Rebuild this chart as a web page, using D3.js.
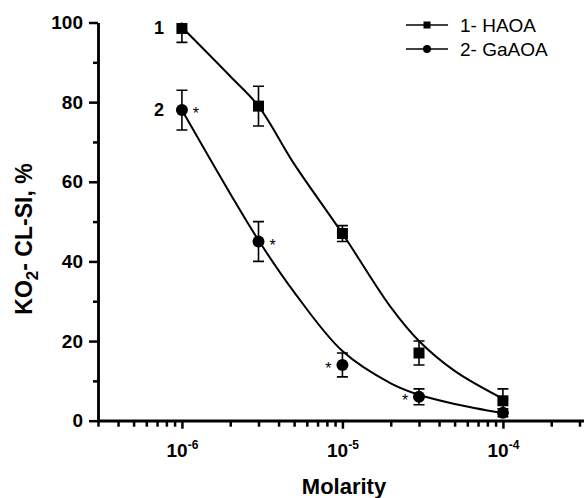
<!DOCTYPE html>
<html>
<head>
<meta charset="utf-8">
<style>
body { margin: 0; background: #fff; }
svg { display: block; font-family: "Liberation Sans", Arial, sans-serif; }
.axis path, .axis line { stroke: #000; stroke-width: 2.5; }
.axis text { font-size: 19px; font-weight: bold; fill: #000; }
.fit { fill: none; stroke: #000; stroke-width: 2; }
.err { stroke: #000; stroke-width: 1.6; }
</style>
</head>
<body>
<svg id="chart" width="584" height="498"></svg>
<script src="https://d3js.org/d3.v7.min.js"></script>
<script>
// measured points (molarity, % with error)
let molarity = [1e-6, 3e-6, 1e-5, 3e-5, 1e-4];
let haoa = [98.5, 79, 47, 17, 5];
let haoaErr = [3.5, 5, 2, 3, 3];
let gaaoa = [78, 45, 14, 6, 2];
let gaaoaErr = [5, 5, 3, 2, 1];
let starred = [true, true, true, true, false];
let starSide = [1, 1, -1, -1, 1];

// fitted curves
let curveX = [1e-6, 2e-6, 3e-6, 5e-6, 1e-5, 2e-5, 3e-5, 5e-5, 1e-4];
let haoaFit = [98.8, 86.5, 79, 64.5, 47, 28.5, 20, 12.5, 5.5];
let gaaoaFit = [78, 57, 45.3, 32.3, 17.5, 9.4, 6.5, 4.2, 1.9];

let yTicks = [0, 20, 40, 60, 80, 100];
let legendLabels = ["1- HAOA", "2- GaAOA"];

let svg = d3.select("#chart");
let plotLeft = 98, plotBottom = 420.7, plotTop = 22.5;

let x = d3.scaleLog()
    .domain([3e-7, 3.3e-4])
    .range([plotLeft, plotLeft + Math.log10(3.3e-4 / 3e-7) * 160.5]);
let y = d3.scaleLinear()
    .domain([0, 100])
    .range([plotBottom, plotTop]);

svg.append("clipPath").attr("id", "clip")
  .append("rect")
    .attr("x", plotLeft).attr("y", plotTop)
    .attr("width", 584 - plotLeft).attr("height", plotBottom - plotTop);

// x axis: minor then major ticks
let allX = x.ticks();
let majorX = allX.filter(d => Math.abs(Math.log10(d) - Math.round(Math.log10(d))) < 1e-9);
let minorX = allX.filter(d => majorX.indexOf(d) < 0);

svg.append("g")
    .attr("class", "axis")
    .attr("transform", "translate(0," + plotBottom + ")")
    .call(d3.axisBottom(x).tickValues(minorX).tickSize(6).tickSizeOuter(0).tickFormat(""));
let gx = svg.append("g")
    .attr("class", "axis")
    .attr("transform", "translate(0," + plotBottom + ")")
    .call(d3.axisBottom(x).tickValues(majorX).tickSize(8).tickSizeOuter(0).tickFormat(""));
gx.selectAll(".tick text").each(function(d) {
    let t = d3.select(this).attr("y", 30).attr("dy", "0.32em");
    t.append("tspan").text("10");
    t.append("tspan").text(Math.round(Math.log10(d)))
        .attr("dy", -8).style("font-size", "12px");
});
gx.select(".domain").attr("d", "M" + plotLeft + ",0H584");

// y axis
let minorY = d3.range(10, 100, 20);
svg.append("g")
    .attr("class", "axis")
    .attr("transform", "translate(" + plotLeft + ",0)")
    .call(d3.axisLeft(y).tickValues(minorY).tickSize(5).tickSizeOuter(0).tickFormat(""));
svg.append("g")
    .attr("class", "axis")
    .attr("transform", "translate(" + plotLeft + ",0)")
    .call(d3.axisLeft(y).tickValues(yTicks).tickSize(9).tickSizeOuter(0))
  .selectAll(".tick text").attr("x", -15);

// axis titles
svg.append("text")
    .attr("transform", "translate(32,239) rotate(-90)")
    .attr("text-anchor", "middle")
    .style("font-size", "23px").style("font-weight", "bold")
    .call(t => {
        t.append("tspan").text("KO");
        t.append("tspan").text("2").attr("dy", 6).style("font-size", "17px");
        t.append("tspan").text("- CL-SI, %").attr("dy", -6);
    });
svg.append("text")
    .attr("x", 344).attr("y", 494)
    .attr("text-anchor", "middle")
    .style("font-size", "22px").style("font-weight", "bold")
    .text("Molarity");

// fitted curves
let plot = svg.append("g").attr("clip-path", "url(#clip)");
let line = d3.line()
    .x(d => x(d[0]))
    .y(d => y(d[1]))
    .curve(d3.curveCatmullRom.alpha(0.5));
plot.append("path").attr("class", "fit").attr("d", line(d3.zip(curveX, haoaFit)));
plot.append("path").attr("class", "fit").attr("d", line(d3.zip(curveX, gaaoaFit)));

// error bars
function errorBars(vals, errs) {
    let g = plot.append("g");
    molarity.forEach(function(m, i) {
        let cx = x(m), y0 = y(vals[i] - errs[i]), y1 = y(vals[i] + errs[i]);
        g.append("line").attr("class", "err").attr("x1", cx).attr("x2", cx).attr("y1", y0).attr("y2", y1);
        g.append("line").attr("class", "err").attr("x1", cx - 5.5).attr("x2", cx + 5.5).attr("y1", y0).attr("y2", y0);
        g.append("line").attr("class", "err").attr("x1", cx - 5.5).attr("x2", cx + 5.5).attr("y1", y1).attr("y2", y1);
    });
}
errorBars(haoa, haoaErr);
errorBars(gaaoa, gaaoaErr);

// markers
svg.append("g").selectAll("rect")
    .data(d3.zip(molarity, haoa))
    .join("rect")
    .attr("x", d => x(d[0]) - 5.5)
    .attr("y", d => y(d[1]) - 5.5)
    .attr("width", 11).attr("height", 11)
    .attr("fill", "#000");
svg.append("g").selectAll("circle")
    .data(d3.zip(molarity, gaaoa))
    .join("circle")
    .attr("cx", d => x(d[0]))
    .attr("cy", d => y(d[1]))
    .attr("r", 6)
    .attr("fill", "#000");

// asterisks on series 2
svg.append("g").selectAll("text")
    .data(molarity.map((m, i) => [m, gaaoa[i], starSide[i]]).filter((d, i) => starred[i]))
    .join("text")
    .attr("x", d => x(d[0]) + d[2] * 14)
    .attr("y", d => y(d[1]) + 9)
    .attr("text-anchor", "middle")
    .style("font-size", "16px")
    .text("*");

// curve numbers
svg.append("text").attr("x", x(molarity[0]) - 18).attr("y", y(haoa[0]) + 6)
    .attr("text-anchor", "end").style("font-size", "18px").style("font-weight", "bold").text("1");
svg.append("text").attr("x", x(molarity[0]) - 18).attr("y", y(gaaoa[0]) + 6)
    .attr("text-anchor", "end").style("font-size", "18px").style("font-weight", "bold").text("2");

// legend
let legend = svg.append("g").selectAll("g")
    .data(legendLabels)
    .join("g")
    .attr("transform", (d, i) => "translate(406," + (25 + i * 24) + ")");
legend.append("line").attr("x1", 0).attr("x2", 42).attr("stroke", "#000").attr("stroke-width", 1.6);
legend.filter((d, i) => i === 0).append("rect")
    .attr("x", 17.5).attr("y", -3.5).attr("width", 7).attr("height", 7).attr("fill", "#000");
legend.filter((d, i) => i === 1).append("circle")
    .attr("cx", 21).attr("r", 4).attr("fill", "#000");
legend.append("text")
    .attr("x", 54).attr("y", 7)
    .style("font-size", "19px")
    .text(d => d);
</script>
</body>
</html>
